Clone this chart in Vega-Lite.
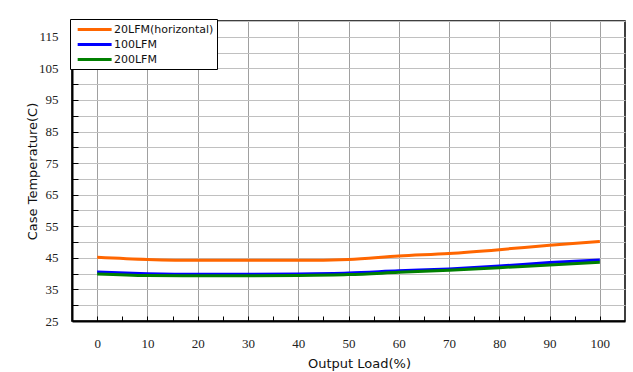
{
  "$schema": "https://vega.github.io/schema/vega-lite/v6.json",
  "autosize": {"type": "none"},
  "width": 553,
  "height": 300,
  "padding": {"left": 72, "top": 21, "right": 8, "bottom": 51},
  "background": "white",
  "config": {
    "view": {"stroke": "black", "strokeWidth": 1.5},
    "axis": {"titleFontWeight": "normal"}
  },
  "data": {
    "values": [
      {"load": 0, "series": "20LFM(horizontal)", "temp": 45.2},
      {"load": 10, "series": "20LFM(horizontal)", "temp": 44.5},
      {"load": 20, "series": "20LFM(horizontal)", "temp": 44.2},
      {"load": 30, "series": "20LFM(horizontal)", "temp": 44.2},
      {"load": 40, "series": "20LFM(horizontal)", "temp": 44.2},
      {"load": 50, "series": "20LFM(horizontal)", "temp": 44.5},
      {"load": 60, "series": "20LFM(horizontal)", "temp": 45.6},
      {"load": 70, "series": "20LFM(horizontal)", "temp": 46.4},
      {"load": 80, "series": "20LFM(horizontal)", "temp": 47.6},
      {"load": 90, "series": "20LFM(horizontal)", "temp": 49.0},
      {"load": 100, "series": "20LFM(horizontal)", "temp": 50.2},
      {"load": 0, "series": "100LFM", "temp": 40.5},
      {"load": 10, "series": "100LFM", "temp": 40.0},
      {"load": 20, "series": "100LFM", "temp": 39.8},
      {"load": 30, "series": "100LFM", "temp": 39.8},
      {"load": 40, "series": "100LFM", "temp": 39.9},
      {"load": 50, "series": "100LFM", "temp": 40.2},
      {"load": 60, "series": "100LFM", "temp": 40.9},
      {"load": 70, "series": "100LFM", "temp": 41.5},
      {"load": 80, "series": "100LFM", "temp": 42.4},
      {"load": 90, "series": "100LFM", "temp": 43.5},
      {"load": 100, "series": "100LFM", "temp": 44.3},
      {"load": 0, "series": "200LFM", "temp": 39.9},
      {"load": 10, "series": "200LFM", "temp": 39.4},
      {"load": 20, "series": "200LFM", "temp": 39.3},
      {"load": 30, "series": "200LFM", "temp": 39.3},
      {"load": 40, "series": "200LFM", "temp": 39.4},
      {"load": 50, "series": "200LFM", "temp": 39.7},
      {"load": 60, "series": "200LFM", "temp": 40.4},
      {"load": 70, "series": "200LFM", "temp": 41.1},
      {"load": 80, "series": "200LFM", "temp": 41.9},
      {"load": 90, "series": "200LFM", "temp": 42.7},
      {"load": 100, "series": "200LFM", "temp": 43.6}
    ]
  },
  "mark": {"type": "line", "interpolate": "monotone", "strokeWidth": 3},
  "encoding": {
    "x": {
      "field": "load",
      "type": "quantitative",
      "scale": {"domain": [-5, 105], "nice": false, "zero": false},
      "axis": {
        "values": [0,5,10,15,20,25,30,35,40,45,50,55,60,65,70,75,80,85,90,95,100],
        "labelExpr": "datum.value % 10 == 0 ? datum.label : ''",
        "grid": true,
        "gridColor": "#a0a0a0",
        "gridOpacity": {"condition": {"test": "datum.value % 10 != 0", "value": 0}, "value": 1},
        "tickSize": -5,
        "tickColor": "black",
        "domainColor": "black",
        "domainWidth": 2,
        "labelFont": "Liberation Serif, Times New Roman, serif",
        "labelFontSize": 13,
        "labelColor": "#222",
        "labelPadding": 21,
        "title": "Output Load(%)",
        "titleFont": "DejaVu Sans",
        "titleFontSize": 13,
        "titleColor": "#111",
        "titleX": 287,
        "titleY": 42,
        "titleBaseline": "middle",
        "titleAlign": "center"
      }
    },
    "y": {
      "field": "temp",
      "type": "quantitative",
      "scale": {"domain": [25, 120], "nice": false, "zero": false},
      "axis": {
        "values": [25,30,35,40,45,50,55,60,65,70,75,80,85,90,95,100,105,110,115,120],
        "labelExpr": "datum.value % 10 == 5 ? datum.label : ''",
        "grid": true,
        "gridColor": "#c0c0c0",
        "tickSize": -6,
        "tickColor": "black",
        "domainColor": "black",
        "domainWidth": 2,
        "labelFont": "Liberation Serif, Times New Roman, serif",
        "labelFontSize": 13,
        "labelColor": "#222",
        "labelPadding": 20,
        "title": "Case Temperature(C)",
        "titleFont": "DejaVu Sans",
        "titleFontSize": 13,
        "titleColor": "#111",
        "titleX": -40,
        "titleY": 150,
        "titleAngle": -90,
        "titleAlign": "center",
        "titleBaseline": "middle"
      }
    },
    "color": {
      "field": "series",
      "type": "nominal",
      "sort": ["20LFM(horizontal)", "100LFM", "200LFM"],
      "scale": {
        "domain": ["20LFM(horizontal)", "100LFM", "200LFM"],
        "range": ["#FF6600", "#0000FF", "#008000"]
      },
      "legend": {
        "title": null,
        "orient": "none",
        "legendX": -2,
        "legendY": -2,
        "padding": 3,
        "strokeColor": "black",
        "fillColor": "white",
        "symbolType": "M-0.5,0H5.5",
        "symbolSize": 128,
        "symbolStrokeWidth": 3,
        "labelOffset": 26,
        "labelFont": "DejaVu Sans",
        "labelFontSize": 11,
        "labelColor": "#111",
        "rowPadding": 1
      }
    }
  }
}
